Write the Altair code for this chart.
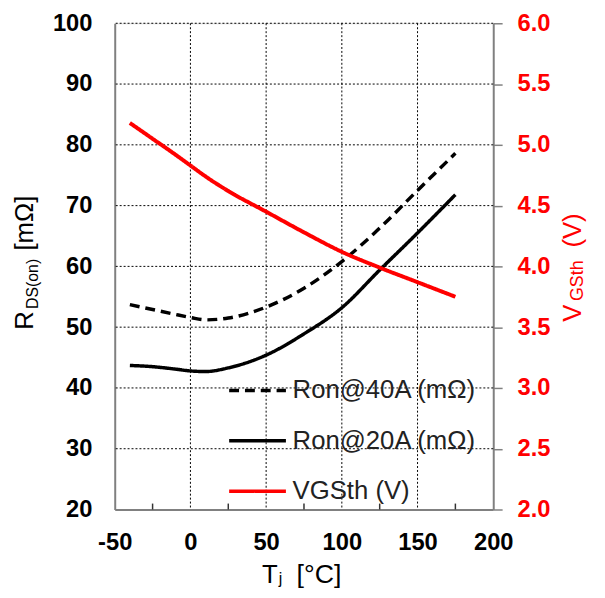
import altair as alt
import pandas as pd

# ---- data ----
temps = [-40, -25, -10, 0, 10, 25, 50, 75, 100, 125, 150, 175]
ron40 = [53.7, 52.9, 52.1, 51.6, 51.2, 51.5, 53.3, 56.4, 60.8, 66.3, 72.5, 78.6]
ron20 = [43.7, 43.5, 43.1, 42.8, 42.7, 43.3, 45.4, 48.9, 53.2, 59.4, 65.5, 71.8]
vgsth = [5.18, 5.05, 4.92, 4.83, 4.74, 4.62, 4.45, 4.28, 4.12, 3.99, 3.87, 3.75]

series_names = ["Ron@40A (mΩ)", "Ron@20A (mΩ)", "VGSth (V)"]
x_ticks = [-50, 0, 50, 100, 150, 200]
x_grid = [0, 50, 100, 150]
x_minor = [-25, 25, 75, 125, 175]
left_ticks = [20, 30, 40, 50, 60, 70, 80, 90, 100]
left_grid = [30, 40, 50, 60, 70, 80, 90, 100]
right_ticks = [2.0, 2.5, 3.0, 3.5, 4.0, 4.5, 5.0, 5.5, 6.0]

FONT = "Liberation Sans"
W, H = 383, 492

ron_df = pd.DataFrame({
    "T": temps * 2,
    "v": ron40 + ron20,
    "series": [series_names[0]] * len(temps) + [series_names[1]] * len(temps),
})
vgs_df = pd.DataFrame({"T": temps, "v": vgsth, "series": [series_names[2]] * len(temps)})

xscale = alt.Scale(domain=[-50, 200], nice=False, zero=False)
xaxis = alt.Axis(values=x_ticks, title=None, grid=False, tickSize=0, labelPadding=21,
                 labelExpr="toString(datum.value)",
                 labelFont=FONT, labelFontSize=24, labelFontWeight="bold", labelColor="black",
                 domainColor="#808080", domainWidth=2, labelFlush=False)

color_scale = alt.Scale(domain=series_names, range=["black", "black", "#ff0000"])
dash_scale = alt.Scale(domain=series_names, range=[[10, 6], [1, 0], [1, 0]])
legend = alt.Legend(orient="none", legendX=114, legendY=341, title=None,
                    symbolType="stroke", symbolSize=3300, symbolStrokeWidth=3.5,
                    labelFont=FONT, labelFontSize=26, labelColor="#222222",
                    labelOffset=5, rowPadding=7, labelLimit=400)

# gridlines
vgrid = alt.Chart(pd.DataFrame({"g": x_grid})).mark_rule(
    color="black", strokeWidth=1, strokeDash=[2, 2]).encode(
    x=alt.X("g:Q", scale=xscale, axis=xaxis))
left_scale = alt.Scale(domain=[20, 100], nice=False, zero=False)
hgrid = alt.Chart(pd.DataFrame({"g": left_grid})).mark_rule(
    color="black", strokeWidth=1, strokeDash=[2, 2]).encode(
    y=alt.Y("g:Q", scale=left_scale))

left_axis = alt.Axis(values=left_ticks, title=None, grid=False, tickSize=0, labelPadding=23,
                     labelFont=FONT, labelFontSize=24, labelFontWeight="bold", labelColor="black",
                     domainColor="#808080", domainWidth=2)

ron_lines = alt.Chart(ron_df).mark_line(strokeWidth=3.5, interpolate="monotone").encode(
    x=alt.X("T:Q", scale=xscale, axis=xaxis),
    y=alt.Y("v:Q", scale=left_scale, axis=left_axis),
    color=alt.Color("series:N", scale=color_scale, legend=legend),
    strokeDash=alt.StrokeDash("series:N", scale=dash_scale, legend=legend),
    detail="series:N",
)

left = alt.layer(hgrid, ron_lines)

right_axis = alt.Axis(values=right_ticks, format=".1f", title=None, grid=False, orient="right",
                      tickSize=9, tickColor="#808080", tickWidth=1.5, labelPadding=15,
                      labelFont=FONT, labelFontSize=24, labelFontWeight="bold", labelColor="#ff0000",
                      domainColor="#808080", domainWidth=2)
vgs_line = alt.Chart(vgs_df).mark_line(strokeWidth=4, interpolate="monotone").encode(
    x=alt.X("T:Q", scale=xscale, axis=xaxis),
    y=alt.Y("v:Q", scale=alt.Scale(domain=[2, 6], nice=False, zero=False), axis=right_axis),
    color=alt.Color("series:N", scale=color_scale, legend=legend),
    strokeDash=alt.StrokeDash("series:N", scale=dash_scale, legend=legend),
)

minor = alt.Chart(pd.DataFrame({"m": x_minor})).mark_rule(color="#333333", strokeWidth=1.5).encode(
    x=alt.X("m:Q", scale=xscale, axis=xaxis), y=alt.value(H - 6), y2=alt.value(H))


def label(txt, x, y, size, color="black", angle=0):
    return alt.Chart(pd.DataFrame({"t": [txt]})).mark_text(
        font=FONT, fontSize=size, color=color, angle=angle, align="left", baseline="alphabetic"
    ).encode(text="t:N", x=alt.value(x), y=alt.value(y))


titles = [
    label("T", 149, 566, 26),
    label("j", 166, 567, 16),
    label("[°C]", 184, 566, 27),
    label("R", -83, 310, 26, angle=270),
    label("DS(on)", -78, 289, 16, angle=270),
    label("[mΩ]", -83, 230, 26, angle=270),
    label("V", 472, 302, 26, color="#ff0000", angle=270),
    label("GSth", 474, 281, 18, color="#ff0000", angle=270),
    label("(V)", 472, 227, 26, color="#ff0000", angle=270),
]

chart = alt.layer(vgrid, left, vgs_line, minor, *titles).resolve_scale(
    y="independent"
).properties(
    width=W, height=H,
    autosize=alt.AutoSizeParams(type="none"),
    padding={"left": 108, "top": 12, "right": 105, "bottom": 78},
).configure_view(stroke=None).configure(background="white")

chart.save("out.html", embed_options={"renderer": "svg", "actions": False})
